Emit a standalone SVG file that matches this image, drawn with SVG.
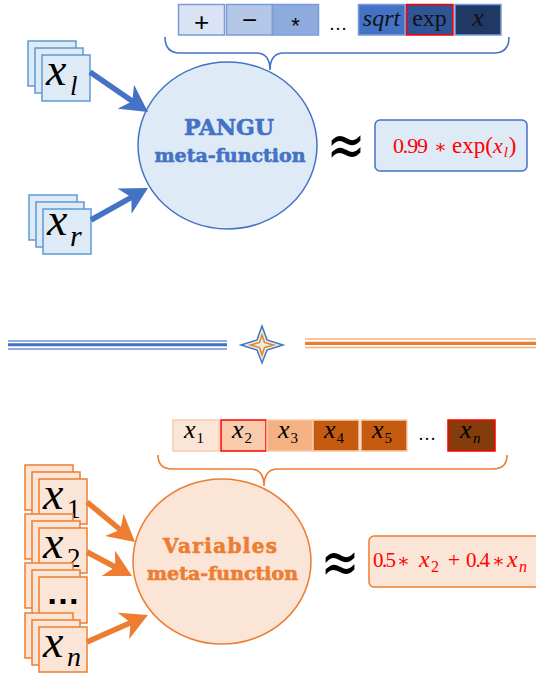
<svg xmlns="http://www.w3.org/2000/svg" width="536" height="679" viewBox="0 0 536 679">
  <style>
    .math { font-family: "Liberation Serif", "DejaVu Serif", serif; }
    .it { font-style: italic; }
    .op { font-family: "DejaVu Serif", serif; font-size: 19px; text-anchor: middle; fill: #FF0000; }
    .lbl { font-family: "DejaVu Serif", serif; font-weight: bold; text-anchor: middle; stroke-width: 0.6; }
    .bstack { fill: #DEEBF7; stroke: #5B9BD5; stroke-width: 1.5; }
    .ostack { fill: #FBE5D6; stroke: #ED7D31; stroke-width: 1.5; }
    .bcell { stroke: #7A9CD9; stroke-width: 1.5; }
    .ocell { stroke: #F8CBAD; stroke-width: 1.5; }
    .redb { stroke: #FF0000; stroke-width: 1.5; }
    .approx { font-family: "DejaVu Sans", sans-serif; font-size: 46px; text-anchor: middle; fill: #000; }
    .brace { fill: none; stroke-width: 1.6; }
    .shaft { fill: none; stroke-width: 5.5; }
  </style>
  <defs>
    <marker id="head-blue" markerUnits="userSpaceOnUse" viewBox="0 0 27 29" markerWidth="27" markerHeight="29" refX="9" refY="14.5" orient="auto">
      <path d="M0,0 L27,14.5 L0,29 L8,14.5 Z" fill="#4472C4"/>
    </marker>
    <marker id="head-orange" markerUnits="userSpaceOnUse" viewBox="0 0 27 29" markerWidth="27" markerHeight="29" refX="9" refY="14.5" orient="auto">
      <path d="M0,0 L27,14.5 L0,29 L8,14.5 Z" fill="#ED7D31"/>
    </marker>
  </defs>

  <!-- operator vocabulary bar -->
  <g id="op-bar">
    <rect class="bcell" x="178.5" y="4.5" width="46" height="30.5" fill="#DAE3F3"/>
    <rect class="bcell" x="226.5" y="4.5" width="46" height="30.5" fill="#B4C7E7"/>
    <rect class="bcell" x="272.5" y="4.5" width="46" height="30.5" fill="#8FAADC"/>
    <rect class="bcell" x="358.5" y="4.5" width="46.5" height="30.5" fill="#4472C4"/>
    <rect class="redb" x="406.5" y="4.5" width="46.5" height="30.5" fill="#2F5597"/>
    <rect class="bcell" x="455" y="4.5" width="46" height="30.5" fill="#203864"/>
    <text x="201.5" y="31" font-family="Liberation Sans, sans-serif" font-size="26" text-anchor="middle" fill="#000">+</text>
    <text x="249.5" y="29" font-family="Liberation Sans, sans-serif" font-size="26" text-anchor="middle" fill="#000">−</text>
    <text x="295.5" y="33" font-family="Liberation Sans, sans-serif" font-size="22" text-anchor="middle" fill="#000">*</text>
    <text x="338" y="30" class="math" font-size="18" text-anchor="middle" fill="#000">…</text>
    <text x="381.5" y="26" class="math it" font-size="24" text-anchor="middle" fill="#111">sqrt</text>
    <text x="429.5" y="26" class="math" font-size="24" text-anchor="middle" fill="#111">exp</text>
    <text x="478" y="26" class="math it" font-size="26" text-anchor="middle" fill="#111">x</text>
  </g>
  <path id="op-brace" class="brace" stroke="#4472C4" d="M165,37 Q165,53 180,53 L256,53 Q270,53 270,70 Q270,53 284,53 L494,53 Q509,53 509,37"/>

  <!-- input variable stacks (top) -->
  <g id="in-xl">
    <rect class="bstack" x="28" y="41" width="48" height="45"/>
    <rect class="bstack" x="35" y="48" width="48" height="45"/>
    <rect class="bstack" x="42" y="55" width="48" height="46"/>
    <text class="math it" x="46" y="85" font-size="46" fill="#000">x</text>
    <text class="math it" x="70" y="95" font-size="27" fill="#000">l</text>
  </g>
  <g id="in-xr">
    <rect class="bstack" x="29" y="195" width="48" height="45"/>
    <rect class="bstack" x="36" y="202" width="48" height="45"/>
    <rect class="bstack" x="43" y="209" width="48" height="45"/>
    <text class="math it" x="47" y="235" font-size="46" fill="#000">x</text>
    <text class="math it" x="70" y="246" font-size="30" fill="#000">r</text>
  </g>

  <!-- PANGU meta-function -->
  <g id="pangu">
    <ellipse cx="227.5" cy="145.5" rx="89.5" ry="83.5" fill="#DEEBF7" stroke="#4472C4" stroke-width="1.5"/>
    <text class="lbl" x="229" y="135" font-size="22" fill="#4472C4" stroke="#4472C4" textLength="90">PANGU</text>
    <text class="lbl" x="230" y="162" font-size="19" fill="#4472C4" stroke="#4472C4" textLength="151">meta-function</text>
  </g>
  <text class="approx" transform="translate(346,146) scale(1,1.35)" y="15">≈</text>
  <g id="pangu-expr">
    <rect x="375" y="120" width="152" height="51" rx="5" fill="#DEEBF7" stroke="#4472C4" stroke-width="1.5"/>
    <text class="math" x="393" y="153" font-size="22" fill="#FF0000" textLength="35">0.99</text>
    <text class="op" x="440.5" y="153">∗</text>
    <text class="math" y="153" font-size="23" fill="#FF0000"><tspan x="452">exp(</tspan><tspan class="it" font-size="22">x</tspan><tspan dx="1" y="157" font-size="15" class="it">l</tspan><tspan dx="1" y="153">)</tspan></text>
  </g>

  <!-- section divider -->
  <g id="divider">
    <line x1="8" y1="341" x2="227" y2="341" stroke="#6E94D6" stroke-width="1.4"/>
    <line x1="8" y1="344.7" x2="227" y2="344.7" stroke="#4472C4" stroke-width="3"/>
    <line x1="8" y1="349" x2="227" y2="349" stroke="#6E94D6" stroke-width="1.4"/>
    <line x1="305" y1="339" x2="536" y2="339" stroke="#F4B183" stroke-width="1.4"/>
    <line x1="305" y1="343.3" x2="536" y2="343.3" stroke="#ED7D31" stroke-width="3.3"/>
    <line x1="305" y1="347.5" x2="536" y2="347.5" stroke="#F4B183" stroke-width="1.4"/>
    <path d="M262,326 L267,340 L283,345 L267,350 L262,363 L257,350 L241,345 L257,340 Z" fill="#E2F0D9" stroke="#4472C4" stroke-width="1.5"/>
    <path d="M262,335 L264.5,342.5 L273.5,345 L264.5,347.5 L262,355 L259.5,347.5 L250.5,345 L259.5,342.5 Z" fill="#E2F0D9" stroke="#ED7D31" stroke-width="1.5"/>
  </g>

  <!-- variable vocabulary bar -->
  <g id="var-bar">
    <rect class="ocell" x="173" y="420" width="46" height="31" fill="#FBE5D6"/>
    <rect class="redb" x="221" y="420" width="45" height="31" fill="#F8CBAD"/>
    <rect class="ocell" x="267" y="420" width="46" height="31" fill="#F4B183"/>
    <rect class="ocell" x="313" y="420" width="46" height="31" fill="#C55A11"/>
    <rect class="ocell" x="361" y="420" width="46" height="31" fill="#C55A11"/>
    <rect class="redb" x="448" y="420" width="47" height="31" fill="#843C0C"/>
    <g class="math" fill="#000">
      <text x="184" y="438" font-size="26" class="it">x</text><text x="196.5" y="443" font-size="15">1</text>
      <text x="232" y="438" font-size="26" class="it">x</text><text x="244.5" y="443" font-size="15">2</text>
      <text x="278" y="438" font-size="26" class="it">x</text><text x="290.5" y="443" font-size="15">3</text>
      <text x="324" y="438" font-size="26" class="it">x</text><text x="336.5" y="443" font-size="15">4</text>
      <text x="372" y="438" font-size="26" class="it">x</text><text x="384.5" y="443" font-size="15">5</text>
      <text x="427" y="440" font-size="18" text-anchor="middle">…</text>
      <text x="460" y="438" font-size="26" class="it">x</text><text x="473" y="443" font-size="15" class="it">n</text>
    </g>
  </g>
  <path id="var-brace" class="brace" stroke="#ED7D31" d="M158,455 Q158,469 172,469 L250,469 Q264,469 264,486 Q264,469 278,469 L493,469 Q507,469 507,455"/>

  <!-- input variable stacks (bottom) -->
  <g id="in-x1">
    <rect class="ostack" x="25" y="465" width="48" height="45"/>
    <rect class="ostack" x="32" y="472" width="48" height="45"/>
    <rect class="ostack" x="39" y="479" width="48" height="45"/>
    <text class="math it" x="43" y="509" font-size="46" fill="#000">x</text>
    <text class="math" x="67" y="518" font-size="27" fill="#000">1</text>
  </g>
  <g id="in-x2">
    <rect class="ostack" x="25" y="514" width="48" height="45"/>
    <rect class="ostack" x="32" y="521" width="48" height="45"/>
    <rect class="ostack" x="39" y="528" width="48" height="45"/>
    <text class="math it" x="43" y="558" font-size="46" fill="#000">x</text>
    <text class="math" x="67" y="567" font-size="27" fill="#000">2</text>
  </g>
  <g id="in-dots">
    <rect class="ostack" x="25" y="563" width="48" height="45"/>
    <rect class="ostack" x="32" y="570" width="48" height="45"/>
    <rect class="ostack" x="39" y="577" width="48" height="46"/>
    <text x="63" y="604" font-family="Liberation Sans, sans-serif" font-weight="bold" font-size="34" text-anchor="middle" fill="#000">…</text>
  </g>
  <g id="in-xn">
    <rect class="ostack" x="25" y="613" width="48" height="45"/>
    <rect class="ostack" x="32" y="620" width="48" height="45"/>
    <rect class="ostack" x="39" y="627" width="48" height="45"/>
    <text class="math it" x="43" y="657" font-size="46" fill="#000">x</text>
    <text class="math it" x="67" y="666" font-size="28" fill="#000">n</text>
  </g>

  <!-- Variables meta-function -->
  <g id="variables">
    <ellipse cx="222" cy="561.5" rx="89" ry="82.5" fill="#FBE5D6" stroke="#ED7D31" stroke-width="1.5"/>
    <text class="lbl" x="220" y="553" font-size="20" fill="#ED7D31" stroke="#ED7D31" textLength="114">Variables</text>
    <text class="lbl" x="222.5" y="580" font-size="19" fill="#ED7D31" stroke="#ED7D31" textLength="151">meta-function</text>
  </g>
  <text class="approx" transform="translate(340,563) scale(1,1.35)" y="15">≈</text>
  <g id="variables-expr">
    <rect x="369" y="536" width="180" height="51" rx="5" fill="#FBE5D6" stroke="#ED7D31" stroke-width="1.5"/>
    <text class="math" x="373" y="567" font-size="21" fill="#FF0000" textLength="23">0.5</text>
    <text class="op" x="403.5" y="567">∗</text>
    <text class="math it" x="419" y="567" font-size="24" fill="#FF0000">x</text>
    <text class="math" x="431" y="572" font-size="16" fill="#FF0000">2</text>
    <text class="math" x="454" y="567" font-size="22" fill="#FF0000" text-anchor="middle">+</text>
    <text class="math" x="466" y="567" font-size="21" fill="#FF0000" textLength="24">0.4</text>
    <text class="op" x="498.5" y="567">∗</text>
    <text class="math it" x="507" y="567" font-size="24" fill="#FF0000">x</text>
    <text class="math it" x="519" y="572" font-size="16" fill="#FF0000">n</text>
  </g>

  <!-- connectors -->
  <g id="connectors">
    <line class="shaft" stroke="#4472C4" x1="90" y1="72" x2="133.2" y2="101.8" marker-end="url(#head-blue)"/>
    <line class="shaft" stroke="#4472C4" x1="91" y1="220" x2="132.3" y2="196.8" marker-end="url(#head-blue)"/>
    <line class="shaft" stroke="#ED7D31" x1="87" y1="502" x2="121.2" y2="530.5" marker-end="url(#head-orange)"/>
    <line class="shaft" stroke="#ED7D31" x1="87" y1="552" x2="116.1" y2="567.5" marker-end="url(#head-orange)"/>
    <line class="shaft" stroke="#ED7D31" x1="87" y1="642" x2="131.5" y2="622.2" marker-end="url(#head-orange)"/>
  </g>
</svg>
